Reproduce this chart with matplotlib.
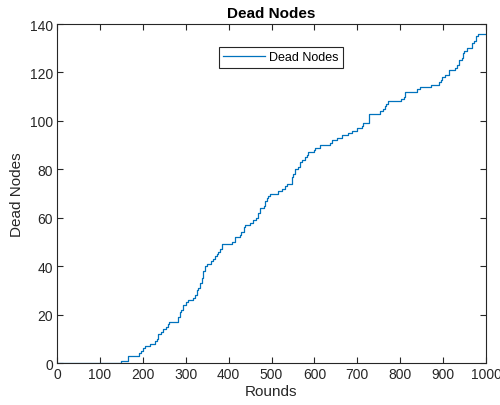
import matplotlib
matplotlib.use("Agg")
import matplotlib.pyplot as plt
import numpy as np

# step change points: round at which the count of dead nodes changes
rounds = [0, 149, 166, 190, 196, 200, 205, 217, 228, 232, 236, 242, 248, 254, 258,
          260, 283, 286, 290, 294, 300, 306, 318, 322, 326, 329, 333, 337, 341, 345,
          350, 360, 364, 368, 372, 376, 380, 384, 409, 415, 426, 430, 435, 438, 450,
          457, 465, 469, 473, 483, 486, 489, 493, 497, 516, 524, 531, 535, 547, 551,
          555, 562, 566, 570, 578, 582, 585, 598, 601, 613, 636, 640, 652, 664, 678,
          687, 699, 710, 714, 728, 754, 760, 764, 768, 772, 803, 808, 812, 840, 846,
          871, 890, 894, 897, 904, 914, 928, 932, 938, 943, 946, 949, 955, 967, 972,
          977, 982, 1000]
dead_nodes = [0, 1, 3, 4, 5, 6, 7, 8, 9, 10, 12, 13, 14, 15, 16,
              17, 19, 21, 22, 24, 25, 26, 27, 28, 30, 31, 33, 35, 38, 40,
              41, 42, 43, 44, 45, 46, 47, 49, 50, 52, 53, 54, 56, 57, 58,
              59, 60, 62, 64, 65, 67, 68, 69, 70, 71, 72, 73, 74, 77, 78,
              80, 81, 83, 84, 85, 86, 87, 88, 89, 90, 91, 92, 93, 94, 95,
              96, 97, 98, 99, 103, 104, 105, 106, 107, 108, 109, 110, 112, 113, 114,
              115, 116, 117, 118, 119, 121, 122, 123, 125, 126, 128, 129, 130, 132, 133,
              135, 136, 136]

x_ticks = [0, 100, 200, 300, 400, 500, 600, 700, 800, 900, 1000]
y_ticks = [0, 20, 40, 60, 80, 100, 120, 140]

plt.rcParams['font.family'] = ['Liberation Sans', 'DejaVu Sans']
fig = plt.figure(figsize=(5.0, 4.06), dpi=100)
ax = fig.add_axes([0.114, 0.1034, 0.858, 0.835])

ax.plot(rounds, dead_nodes, drawstyle='steps-post', color='#0072BD', lw=0.9,
        label='Dead Nodes')
ax.set_xlim(0, 1000)
ax.set_ylim(0, 140)
ax.set_xticks(x_ticks)
ax.set_yticks(y_ticks)
ax.tick_params(direction='in', top=True, right=True, length=4, width=0.8,
               colors='#262626', labelsize=10, pad=3)
for s in ax.spines.values():
    s.set_color('#262626')
    s.set_linewidth(0.8)
ax.set_xlabel('Rounds', fontsize=11, color='#262626', labelpad=2)
ax.set_ylabel('Dead Nodes', fontsize=11, color='#262626', labelpad=4)
ax.set_title('Dead Nodes', fontsize=11, fontweight='bold', color='black', pad=5)
leg = ax.legend(loc='upper center', bbox_to_anchor=(0.522, 0.932), fancybox=False,
                edgecolor='#262626', framealpha=1, fontsize=9, handlelength=3.3,
                borderpad=0.35, handletextpad=0.35, borderaxespad=0)
leg.get_frame().set_linewidth(0.8)

fig.savefig('out.png', dpi=100)
